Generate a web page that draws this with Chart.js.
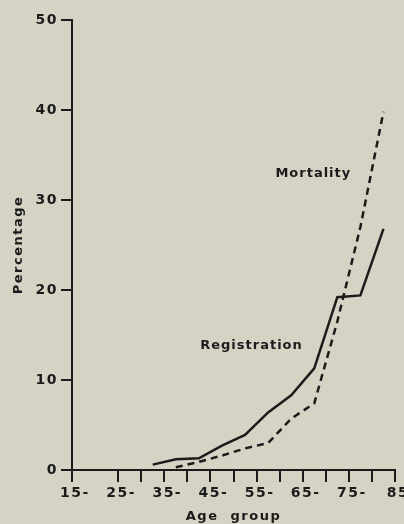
<!DOCTYPE html>
<html>
<head>
<meta charset="utf-8">
<script src="https://cdn.jsdelivr.net/npm/chart.js@4.4.1/dist/chart.umd.min.js"></script>
<style>
  html, body { margin: 0; padding: 0; background: #d6d3c4; }
  #wrap { width: 404px; height: 524px; }
</style>
</head>
<body>
<div id="wrap"><canvas id="myChart" width="404" height="524"></canvas></div>
<script>
// mid-points of the age groups 30-, 35-, ... 80-
var ageMid = [32.5, 37.5, 42.5, 47.5, 52.5, 57.5, 62.5, 67.5, 72.5, 77.5, 82.5];
var registration = [0.6, 1.2, 1.3, 2.7, 3.9, 6.4, 8.3, 11.3, 19.2, 19.4, 26.8];
var mortality = [null, 0.3, 0.9, 1.6, 2.4, 3.0, 5.7, 7.4, 16.5, 27.0, 39.8];

var xTickValues = [15, 25, 30, 35, 40, 45, 50, 55, 60, 65, 70, 75, 80, 85];
var xTickLabels = ['15-', '25-', '', '35-', '', '45-', '', '55-', '', '65-', '', '75-', '', '85'];
var yTickValues = [0, 10, 20, 30, 40, 50];

var seriesNames = ['Registration', 'Mortality'];
// where the curve names sit, in data units (age, percentage)
var nameAt = [[53.9, 13.8], [67.3, 32.9]];

var ink = '#1b1b1b';
var fuente = "'DejaVu Sans', sans-serif";

var toPoints = function (vals) {
    var out = [];
    vals.forEach(function (v, i) {
        if (v !== null) out.push({ x: ageMid[i], y: v });
    });
    return out;
};

// espaciado de letras para todo el texto del grafico
var espaciado = {
    id: 'espaciado',
    beforeDraw: function (chart) {
        chart.ctx.letterSpacing = '1.5px';
    }
};

var etiquetas_curvas = {
    id: 'etiquetas_curvas',
    afterDatasetsDraw: function (chart) {
        var ctx = chart.ctx;
        var sx = chart.scales.x, sy = chart.scales.y;
        ctx.save();
        ctx.fillStyle = ink;
        ctx.font = 'bold 13px ' + fuente;
        ctx.letterSpacing = '1px';
        ctx.textAlign = 'center';
        ctx.textBaseline = 'middle';
        seriesNames.forEach(function (n, i) {
            ctx.fillText(n, sx.getPixelForValue(nameAt[i][0]), sy.getPixelForValue(nameAt[i][1]));
        });
        ctx.restore();
    }
};

var ctx = document.getElementById('myChart');
var myChart = new Chart(ctx, {
    type: 'line',
    data: {
        datasets: [
            {
                label: seriesNames[0],
                data: toPoints(registration),
                borderColor: ink,
                borderWidth: 2.5,
                pointRadius: 0,
                tension: 0,
                fill: false
            },
            {
                label: seriesNames[1],
                data: toPoints(mortality),
                borderColor: ink,
                borderWidth: 2.5,
                borderDash: [7, 5],
                pointRadius: 0,
                tension: 0,
                fill: false
            }
        ]
    },
    plugins: [espaciado, etiquetas_curvas],
    options: {
        responsive: false,
        animation: false,
        layout: { padding: { top: 20, right: 9, left: 0, bottom: 0 } },
        plugins: {
            legend: { display: false },
            tooltip: { enabled: false }
        },
        scales: {
            x: {
                type: 'linear',
                min: 15,
                max: 85,
                afterBuildTicks: function (scale) {
                    scale.ticks = xTickValues.map(function (v) { return { value: v }; });
                },
                afterFit: function (scale) {
                    scale.height = 54;
                    scale.paddingLeft = 0;
                    scale.paddingRight = 0;
                },
                border: { display: true, color: ink, width: 2 },
                grid: { drawOnChartArea: false, drawTicks: true, tickLength: 12, tickColor: ink, lineWidth: 2 },
                ticks: {
                    autoSkip: false,
                    maxRotation: 0,
                    padding: 3,
                    labelOffset: 3,
                    color: ink,
                    font: { family: fuente, size: 14, weight: 'bold' },
                    callback: function (value, index) { return xTickLabels[index]; }
                },
                title: {
                    display: true,
                    text: 'Age  group',
                    color: ink,
                    padding: { top: 0, bottom: 0 },
                    font: { family: fuente, size: 13, weight: 'bold' }
                }
            },
            y: {
                min: 0,
                max: 50,
                afterBuildTicks: function (scale) {
                    scale.ticks = yTickValues.map(function (v) { return { value: v }; });
                },
                afterFit: function (scale) { scale.width = 72; },
                border: { display: true, color: ink, width: 2 },
                grid: { drawOnChartArea: false, drawTicks: true, tickLength: 11, tickColor: ink, lineWidth: 2 },
                ticks: {
                    padding: 3,
                    color: ink,
                    font: { family: fuente, size: 14, weight: 'bold' }
                },
                title: {
                    display: true,
                    text: 'Percentage',
                    color: ink,
                    padding: { top: 11, bottom: 0 },
                    font: { family: fuente, size: 13, weight: 'bold' }
                }
            }
        }
    }
});
</script>
</body>
</html>
